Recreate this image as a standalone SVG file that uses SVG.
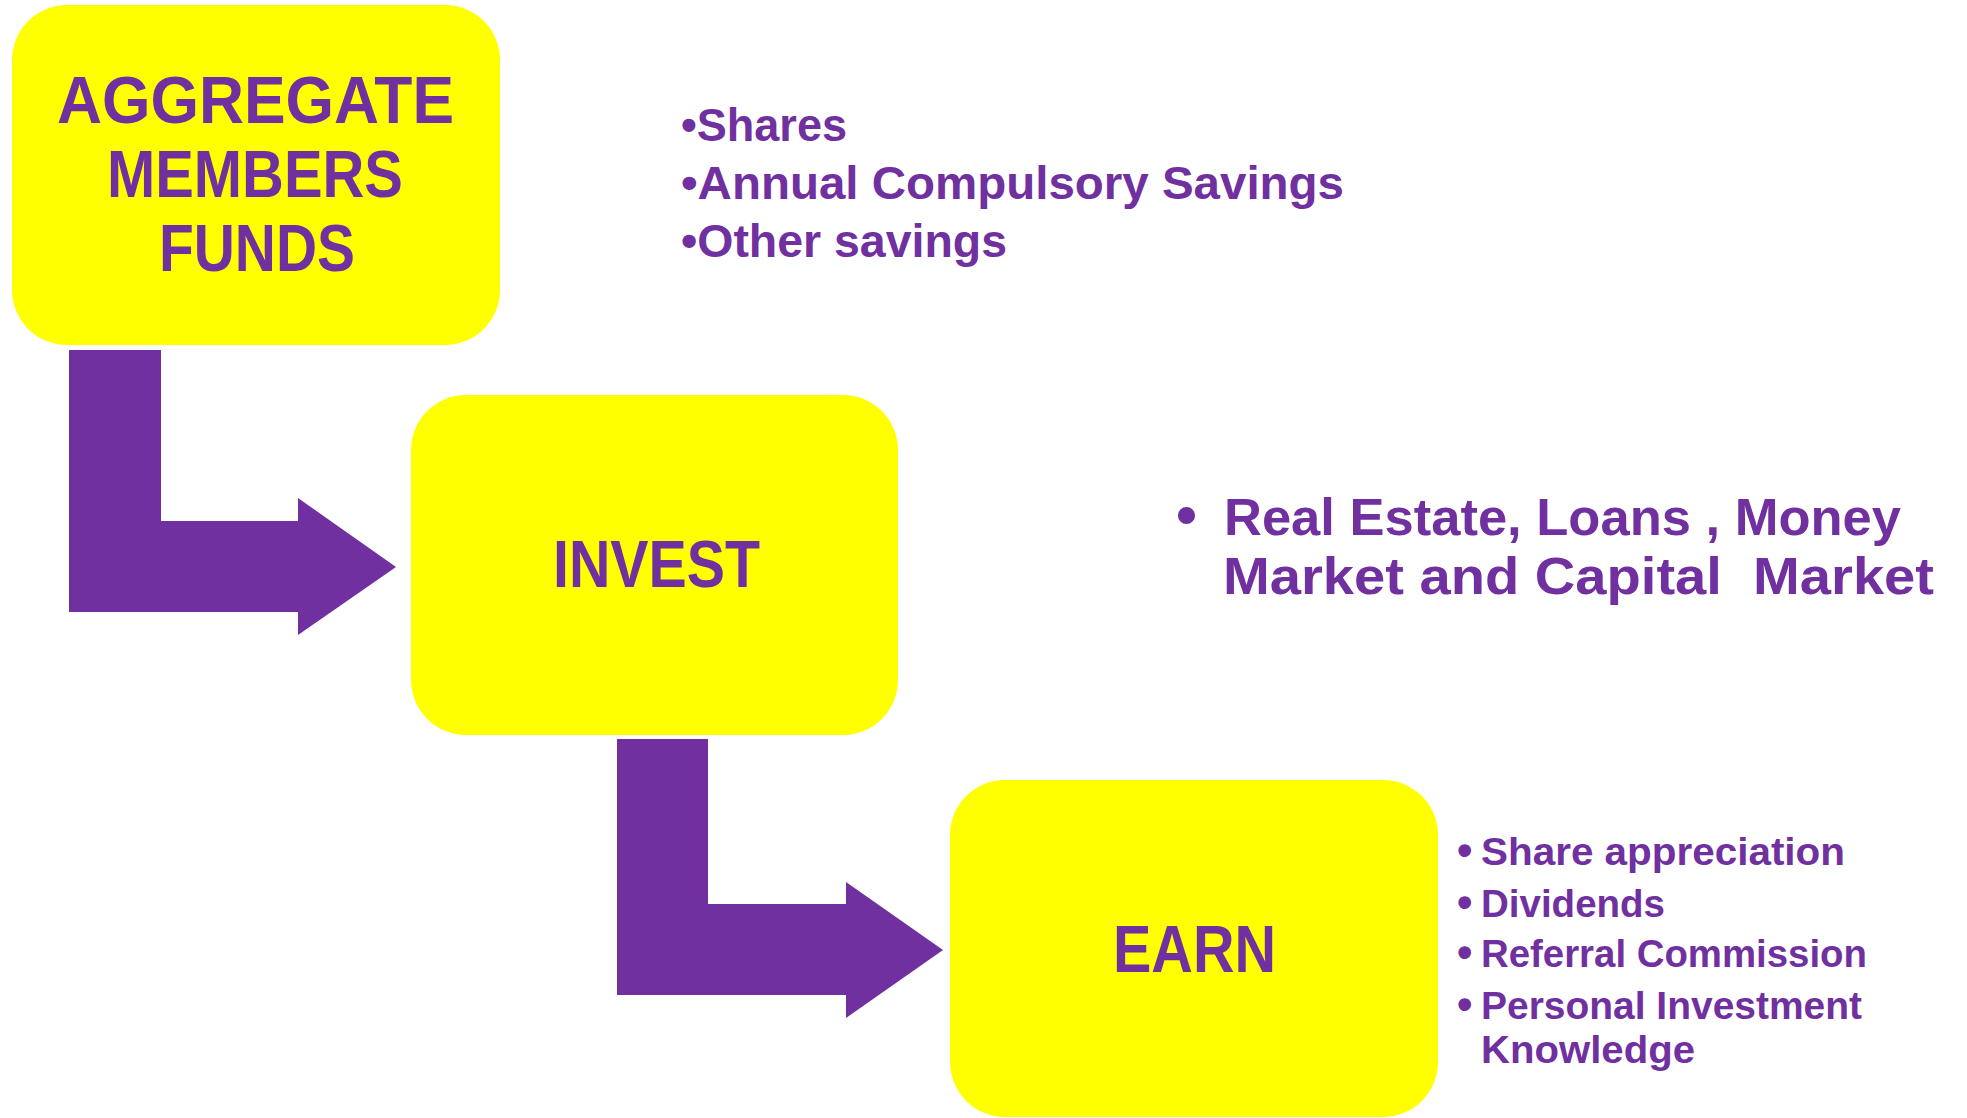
<svg xmlns="http://www.w3.org/2000/svg" width="1967" height="1118" viewBox="0 0 1967 1118">
<style>
.box{fill:#FFFF00}
.t{font-family:"Liberation Sans",Arial,sans-serif;font-weight:bold;fill:#7030A0}
.arrow{fill:#7030A0}
</style>
<rect width="1967" height="1118" fill="#FFFFFF"/>
<g id="connectors">
<polygon class="arrow" points="69,350 161,350 161,521 298,521 298,498 396,567 298,635 298,612 69,612"/>
<polygon class="arrow" points="617,739 708,739 708,904 846,904 846,882 943,950 846,1018 846,995 617,995"/>
</g>
<g id="node-aggregate">
<rect class="box" x="12" y="5" width="488" height="340" rx="55" ry="55"/>
<text class="t" x="57" y="123" font-size="66" textLength="397" lengthAdjust="spacingAndGlyphs">AGGREGATE</text>
<text class="t" x="107" y="197" font-size="66" textLength="296" lengthAdjust="spacingAndGlyphs">MEMBERS</text>
<text class="t" x="159" y="271" font-size="66" textLength="196" lengthAdjust="spacingAndGlyphs">FUNDS</text>
</g>
<g id="node-invest">
<rect class="box" x="411" y="395" width="487" height="340" rx="55" ry="55"/>
<text class="t" x="553" y="587" font-size="67" textLength="207" lengthAdjust="spacingAndGlyphs">INVEST</text>
</g>
<g id="node-earn">
<rect class="box" x="950" y="780" width="488" height="337" rx="55" ry="55"/>
<text class="t" x="1113" y="972" font-size="67" textLength="163" lengthAdjust="spacingAndGlyphs">EARN</text>
</g>
<g id="list-funds">
<text class="t" x="681" y="141" font-size="46" textLength="166" lengthAdjust="spacingAndGlyphs">•Shares</text>
<text class="t" x="681" y="199" font-size="46" textLength="663" lengthAdjust="spacingAndGlyphs">•Annual Compulsory Savings</text>
<text class="t" x="681" y="257" font-size="46" textLength="326" lengthAdjust="spacingAndGlyphs">•Other savings</text>
</g>
<g id="list-invest">
<text class="t" x="1176" y="535" font-size="60">•</text>
<text class="t" x="1224" y="535" font-size="52" textLength="677" lengthAdjust="spacingAndGlyphs">Real Estate, Loans , Money</text>
<text class="t" x="1223" y="594" font-size="52" textLength="711" lengthAdjust="spacingAndGlyphs" xml:space="preserve">Market and Capital  Market</text>
</g>
<g id="list-earn">
<text class="t" x="1457" y="865" font-size="44">•</text>
<text class="t" x="1481" y="865" font-size="38" textLength="364" lengthAdjust="spacingAndGlyphs">Share appreciation</text>
<text class="t" x="1457" y="917" font-size="44">•</text>
<text class="t" x="1481" y="917" font-size="38" textLength="184" lengthAdjust="spacingAndGlyphs">Dividends</text>
<text class="t" x="1457" y="967" font-size="44">•</text>
<text class="t" x="1481" y="967" font-size="38" textLength="386" lengthAdjust="spacingAndGlyphs">Referral Commission</text>
<text class="t" x="1457" y="1019" font-size="44">•</text>
<text class="t" x="1481" y="1019" font-size="38" textLength="381" lengthAdjust="spacingAndGlyphs">Personal Investment</text>
<text class="t" x="1481" y="1063" font-size="38" textLength="214" lengthAdjust="spacingAndGlyphs">Knowledge</text>
</g>
</svg>
